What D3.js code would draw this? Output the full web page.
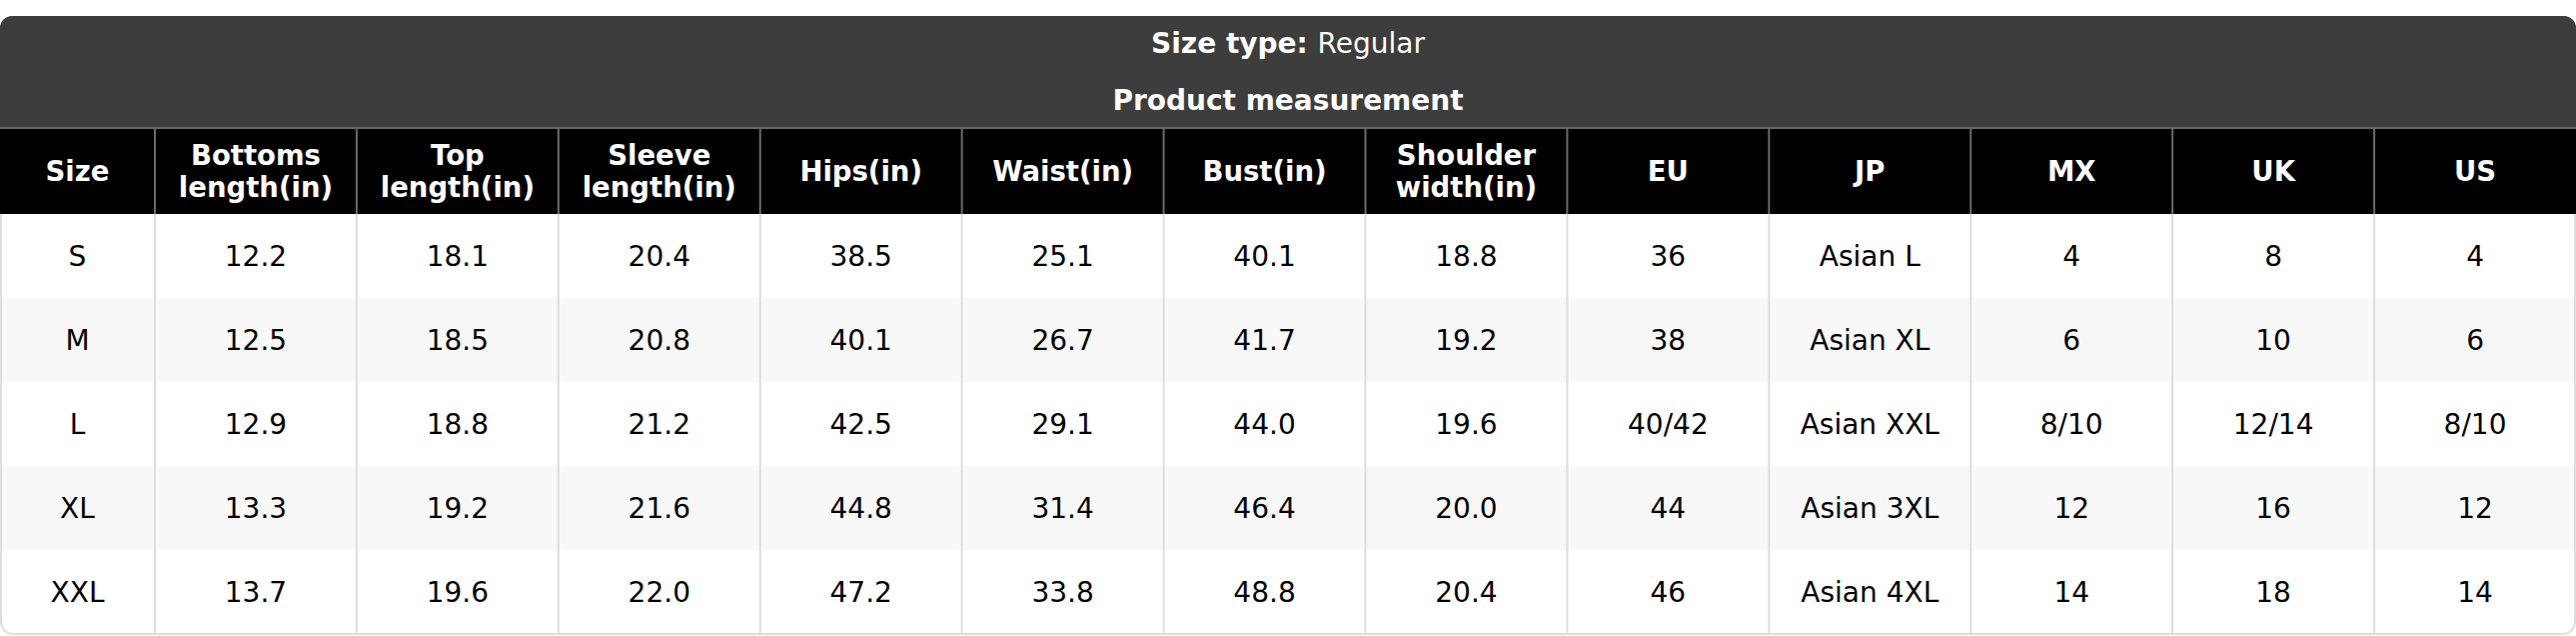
<!DOCTYPE html>
<html>
<head>
<meta charset="utf-8">
<script src="https://cdn.jsdelivr.net/npm/d3@7"></script>
<style>
  html, body { margin: 0; padding: 0; background: #fff; }
  svg { display: block; font-family: "DejaVu Sans", sans-serif; }
</style>
</head>
<body>
<div id="vis"></div>
<script>
// table content
var sizeType = "Regular";
var tableTitle = "Product measurement";
var headers = ["Size", "Bottoms\nlength(in)", "Top\nlength(in)", "Sleeve\nlength(in)", "Hips(in)", "Waist(in)",
               "Bust(in)", "Shoulder\nwidth(in)", "EU", "JP", "MX", "UK", "US"];
var sizes = ["S", "M", "L", "XL", "XXL"];
var bottomsLength = ["12.2", "12.5", "12.9", "13.3", "13.7"];
var topLength = ["18.1", "18.5", "18.8", "19.2", "19.6"];
var sleeveLength = ["20.4", "20.8", "21.2", "21.6", "22.0"];
var hips = ["38.5", "40.1", "42.5", "44.8", "47.2"];
var waist = ["25.1", "26.7", "29.1", "31.4", "33.8"];
var bust = ["40.1", "41.7", "44.0", "46.4", "48.8"];
var shoulderWidth = ["18.8", "19.2", "19.6", "20.0", "20.4"];
var eu = ["36", "38", "40/42", "44", "46"];
var jp = ["Asian L", "Asian XL", "Asian XXL", "Asian 3XL", "Asian 4XL"];
var mx = ["4", "6", "8/10", "12", "14"];
var uk = ["8", "10", "12/14", "16", "18"];
var us = ["4", "6", "8/10", "12", "14"];

var columns = [sizes, bottomsLength, topLength, sleeveLength, hips, waist, bust, shoulderWidth, eu, jp, mx, uk, us];

var W = 2578, H = 636;
var top0 = 16, headTop = 128, headBot = 214, rowH = 84;
var firstW = 155;

var svg = d3.select("#vis").append("svg")
    .attr("width", W)
    .attr("height", H);

// x positions: first column narrower, the rest share the width
var xBand = d3.scaleBand()
    .domain(d3.range(1, headers.length))
    .range([firstW, W]);
function colX(i) { return i == 0 ? 0 : xBand(i); }
function colW(i) { return i == 0 ? firstW : xBand.bandwidth(); }

var yRow = d3.scaleBand()
    .domain(d3.range(sizes.length))
    .range([headBot, headBot + rowH * sizes.length]);

svg.append("defs").append("clipPath").attr("id", "card")
    .append("rect")
    .attr("x", 0).attr("y", top0)
    .attr("width", W).attr("height", H - top0 - 1)
    .attr("rx", 12);

var g = svg.append("g").attr("clip-path", "url(#card)");

// body rows
g.selectAll("rect.row")
    .data(sizes)
    .enter().append("rect")
    .attr("class", "row")
    .attr("x", 0)
    .attr("y", function(d, i) { return yRow(i); })
    .attr("width", W)
    .attr("height", yRow.bandwidth())
    .attr("fill", function(d, i) { return i % 2 ? "#f8f8f8" : "#fff"; });

g.selectAll("line.vsep")
    .data(d3.range(1, headers.length))
    .enter().append("line")
    .attr("class", "vsep")
    .attr("x1", function(d) { return colX(d); })
    .attr("x2", function(d) { return colX(d); })
    .attr("y1", headBot).attr("y2", H)
    .attr("stroke", "#dddddd").attr("stroke-width", 2);

columns.forEach(function(col, ci) {
    g.selectAll("text.c" + ci)
        .data(col)
        .enter().append("text")
        .attr("class", "c" + ci)
        .attr("x", colX(ci) + colW(ci) / 2)
        .attr("y", function(d, i) { return yRow(i) + yRow.bandwidth() / 2 + 10; })
        .attr("text-anchor", "middle")
        .attr("fill", "#000")
        .style("font-size", "28px")
        .text(function(d) { return d; });
});

// card outline (the dark top covers it)
g.append("rect")
    .attr("x", 1).attr("y", top0 + 1)
    .attr("width", W - 2).attr("height", H - top0 - 3)
    .attr("rx", 12)
    .attr("fill", "none")
    .attr("stroke", "#dddddd")
    .attr("stroke-width", 2);

// title band
g.append("rect")
    .attr("x", 0).attr("y", top0)
    .attr("width", W).attr("height", headTop - top0)
    .attr("fill", "#3d3d3d");

var t1 = g.append("text")
    .attr("x", W / 2).attr("y", 53)
    .attr("text-anchor", "middle")
    .attr("fill", "#fff")
    .style("font-size", "28px");
t1.append("tspan").attr("font-weight", "bold").text("Size type: ");
t1.append("tspan").text(sizeType);

g.append("text")
    .attr("x", W / 2).attr("y", 110)
    .attr("text-anchor", "middle")
    .attr("fill", "#fff")
    .attr("font-weight", "bold")
    .style("font-size", "28px")
    .text(tableTitle);

// header row
g.append("rect")
    .attr("x", 0).attr("y", headTop)
    .attr("width", W).attr("height", headBot - headTop)
    .attr("fill", "#000");
g.append("line")
    .attr("x1", 0).attr("x2", W)
    .attr("y1", headTop).attr("y2", headTop)
    .attr("stroke", "#666").attr("stroke-width", 2);

var hc = g.selectAll("g.head")
    .data(headers)
    .enter().append("g")
    .attr("class", "head");

hc.filter(function(d, i) { return i > 0; })
    .append("line")
    .attr("x1", function(d, i) { return colX(i + 1); })
    .attr("x2", function(d, i) { return colX(i + 1); })
    .attr("y1", headTop).attr("y2", headBot)
    .attr("stroke", "#6a6a6a").attr("stroke-width", 2);

hc.each(function(d, i) {
    var lines = d.split("\n");
    var cx = colX(i) + colW(i) / 2;
    var base = 181 - (lines.length - 1) * 16;
    var t = d3.select(this).append("text")
        .attr("text-anchor", "middle")
        .attr("fill", "#fff")
        .attr("font-weight", "bold")
        .style("font-size", "27.5px");
    lines.forEach(function(l, k) {
        t.append("tspan").attr("x", cx).attr("y", base + k * 32).text(l);
    });
});
</script>
</body>
</html>
